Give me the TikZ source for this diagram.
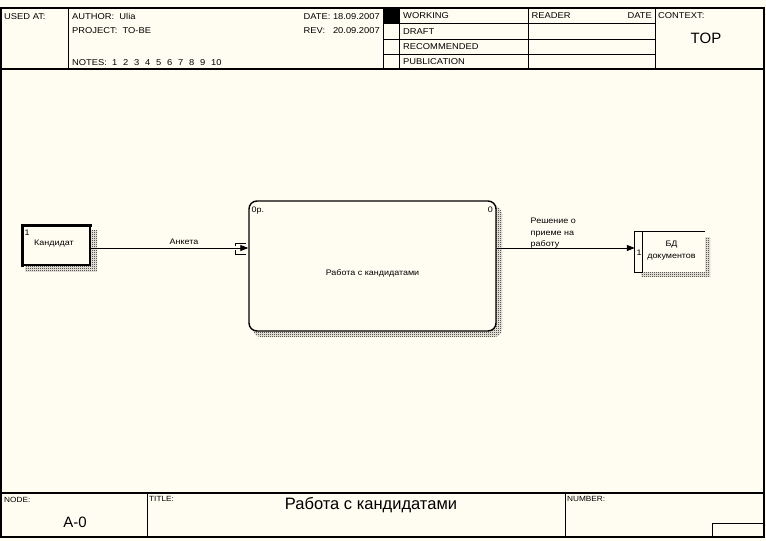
\documentclass[tikz,border=0pt]{standalone}
\usepackage{fontspec}
\setmainfont{Liberation Sans}
\newfontfamily\diagfont[FakeStretch=1.12]{Liberation Sans}
\newfontfamily\hdrfont[FakeStretch=1.1]{Liberation Sans}
\usetikzlibrary{arrows.meta,patterns.meta,calc}
\definecolor{bg}{RGB}{255,253,242}
\tikzdeclarepattern{
  name=dither,
  type=uncolored,
  bounding box={(0pt,0pt) and (2pt,2pt)},
  tile size={(2pt,2pt)},
  code={
    \pgfpathrectangle{\pgfpointorigin}{\pgfpoint{1pt}{1pt}}
    \pgfpathrectangle{\pgfpoint{1pt}{1pt}}{\pgfpoint{1pt}{1pt}}
    \pgfusepath{fill}
  }
}
\newcommand{\nsp}{\hspace{5.8pt}}
\begin{document}
\begin{tikzpicture}[x=1pt,y=-1pt,
  frame/.style={line width=1.2pt},
  thin/.style={line width=0.8pt},
  hdr/.style={font=\hdrfont\fontsize{8.5}{10}\selectfont, inner sep=0pt, anchor=base west},
  hdrr/.style={font=\hdrfont\fontsize{8.5}{10}\selectfont, inner sep=0pt, anchor=base east},
  ftr/.style={font=\hdrfont\fontsize{7.5}{9}\selectfont, inner sep=0pt, anchor=base west},
  big/.style={font=\fontsize{15}{17}\selectfont, inner sep=0pt, anchor=base},
  dtext/.style={font=\diagfont\fontsize{8}{9.5}\selectfont, inner sep=0pt},
  shadow/.style={pattern={dither}, pattern color=black},
  arr/.style={line width=0.8pt, -{Triangle[length=8pt,width=6pt]}}
]
\useasboundingbox (0,0) rectangle (766,541);
\fill[bg] (0,0) rectangle (766,541);

% ---- frame ----
\draw[frame] (1,8) rectangle (764,537);
\draw[frame] (1,69) -- (764,69);
\draw[frame] (1,493) -- (764,493);
% header verticals
\draw[thin] (68,8) -- (68,69);
\draw[thin] (383,8) -- (383,69);
\draw[thin] (399,8) -- (399,69);
\draw[thin] (528,8) -- (528,69);
\draw[thin] (655,8) -- (655,69);
\fill (383,8) rectangle (399,23);
\draw[thin] (383,23) -- (655,23);
\draw[thin] (383,39) -- (655,39);
\draw[thin] (383,54) -- (655,54);
% footer verticals
\draw[thin] (147,493) -- (147,537);
\draw[thin] (565,493) -- (565,537);
\draw[thin] (712,537) -- (712,523) -- (764,523);

% ---- header texts ----
\node[hdr] (usedat) at (4,19.3) {USED AT:};
\node[hdr] (author) at (72,19.3) {AUTHOR:\ \ Ulia};
\node[hdr] (project) at (72,33) {PROJECT:\ \ TO-BE};
\node[hdr] (notes) at (72,65.5) {NOTES:\ \ 1\nsp 2\nsp 3\nsp 4\nsp 5\nsp 6\nsp 7\nsp 8\nsp 9\nsp 10};
\node[hdrr] (date) at (380,19.3) {DATE: 18.09.2007};
\node[hdrr] (rev) at (380,33) {REV:\ \ \ 20.09.2007};
\node[hdr] (working) at (403,18.5) {WORKING};
\node[hdr] (draft) at (403,34) {DRAFT};
\node[hdr] (recom) at (403,49.3) {RECOMMENDED};
\node[hdr] (public) at (403,64.5) {PUBLICATION};
\node[hdr] (reader) at (531.5,18.5) {READER};
\node[hdrr] (rdate) at (652,18.5) {DATE};
\node[hdr] (context) at (658,18.5) {CONTEXT:};
\node[big] (top) at (706,43.5) {TOP};

% ---- footer texts ----
\node[ftr] (nodelbl) at (4,502.3) {NODE:};
\node[ftr] (titlelbl) at (149,501.5) {TITLE:};
\node[ftr] (numlbl) at (567,501.5) {NUMBER:};
\node[big] (nodeno) at (75,527) {A-0};
\node[big, font=\fontsize{16.5}{18}\selectfont] (title) at (371,509) {Работа с кандидатами};

% ---- diagram ----
\coordinate (ay) at (0,248);

% Кандидат
\fill[shadow] (25,230) rectangle (97,271);
\node[draw, fill=bg, line width=1.6pt, minimum width=67pt, minimum height=39pt,
      inner sep=0pt] (kand) at (56.5,245.5) {};
\draw[line width=3pt] ([yshift=-0.8pt]kand.south west) -- (kand.north west) -- ([xshift=0.8pt]kand.north east);
\node[dtext, anchor=base west] (kandno) at (24.5,235) {1};
\node[dtext, anchor=base] (kandlbl) at (54,245) {Кандидат};

% Работа с кандидатами
\fill[shadow, rounded corners=8pt] (253,206) rectangle (502,337);
\node[draw, fill=bg, line width=1.4pt, rounded corners=8pt, minimum width=247pt,
      minimum height=130pt, inner sep=0pt] (main) at (372.5,266) {};
\node[dtext, anchor=base west] (mainop) at (251.5,212.3) {0р.};
\node[dtext, anchor=base east] (mainno) at (493,212.3) {0};
\node[dtext, anchor=base] (mainlbl) at (372.5,275) {Работа с кандидатами};

% БД документов
\fill[shadow] (641,237) rectangle (710,276);
\node[fill=bg, minimum width=70pt, minimum height=40pt, inner sep=0pt] (bd) at (670,252) {};
\draw[line width=1.2pt] (bd.north east) -- (bd.north west) -- (bd.south west) -- ++(8,0);
\draw[line width=1.2pt] ($(bd.north west)+(8,0)$) -- ($(bd.south west)+(8,0)$);
\node[dtext, anchor=base west] (bdno) at (636.5,255) {1};
\node[dtext, anchor=base] (bdlbl1) at (671.5,246.7) {БД};
\node[dtext, anchor=base] (bdlbl2) at (671.5,258.3) {документов};

% arrows
\draw[arr] (kand.east |- ay) -- (main.west |- ay);
\node[dtext, anchor=base] (anketa) at (184,244.3) {Анкета};
\draw[line width=0.9pt] ($(main.west |- ay)+(-13,-2)$) -- ++(0,-3) -- ++(11,0);
\draw[line width=0.9pt] ($(main.west |- ay)+(-13,2)$) -- ++(0,4) -- ++(11,0);

\draw[arr] (main.east |- ay) -- (bd.west |- ay);
\node[dtext, anchor=base west] (res1) at (530.5,223.5) {Решение о};
\node[dtext, anchor=base west] (res2) at (530.5,235) {приеме на};
\node[dtext, anchor=base west] (res3) at (530.5,246.2) {работу};
\end{tikzpicture}
\end{document}
